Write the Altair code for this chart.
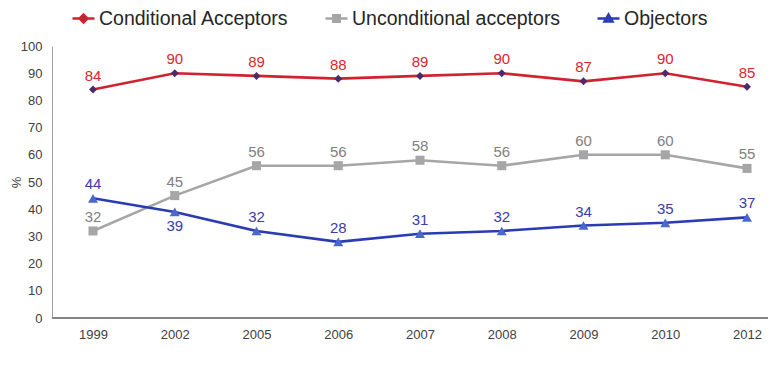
import altair as alt
import pandas as pd

years = ["1999", "2002", "2005", "2006", "2007", "2008", "2009", "2010", "2012"]
conditional = [84, 90, 89, 88, 89, 90, 87, 90, 85]
unconditional = [32, 45, 56, 56, 58, 56, 60, 60, 55]
objectors = [44, 39, 32, 28, 31, 32, 34, 35, 37]
series_names = ["Conditional Acceptors", "Unconditional acceptors", "Objectors"]

rows = []
for name, vals in zip(series_names, [conditional, unconditional, objectors]):
    for yr, v in zip(years, vals):
        rows.append({"year": yr, "series": name, "value": v})
df = pd.DataFrame(rows)

line_colors = ["#D0222F", "#A6A6A6", "#2A3BB4"]
marker_colors = ["#4B2C69", "#A6A6A6", "#4A68CC"]
label_colors = ["#D9262F", "#7F7F7F", "#3B3BAA"]
marker_shapes = ["diamond", "square", "triangle-up"]
legend_shapes = [
    "M-1,0H1M0,-0.36L0.36,0L0,0.36L-0.36,0Z",
    "M-1,0H1M-0.3,-0.3H0.3V0.3H-0.3Z",
    "M-1,0H1M0,-0.36L0.36,0.28H-0.36Z",
]
y_ticks = [0, 10, 20, 30, 40, 50, 60, 70, 80, 90, 100]

W, H = 716, 272
FONT = "Liberation Sans"

x_enc = alt.X(
    "year:N",
    sort=years,
    scale=alt.Scale(type="point", range=[41, 695], padding=0),
    axis=alt.Axis(title=None, labelAngle=0, domain=False, ticks=False,
                  labelPadding=10, labelFontSize=13, labelColor="#404040",
                  labelFont=FONT),
)
y_axis = alt.Axis(values=y_ticks, grid=False, ticks=False,
                  labelOverlap=False,
                  domainColor="#A0A0A0", domainWidth=1, labelPadding=10,
                  labelFontSize=13, labelColor="#404040", labelFont=FONT,
                  title="%", titleFont=FONT, titleFontSize=13,
                  titleFontWeight="normal", titleColor="#404040",
                  titleX=-36, titleY=H / 2, titleAngle=270,
                  titleAlign="center", titleBaseline="middle")
y_scale = alt.Scale(domain=[0, 100], nice=False)
y_enc = alt.Y("value:Q", scale=y_scale, axis=y_axis)

base = alt.Chart(df)

lines = base.mark_line(strokeWidth=2.6).encode(
    x=x_enc, y=y_enc,
    color=alt.Color("series:N", sort=series_names, legend=None,
                    scale=alt.Scale(domain=series_names, range=line_colors)),
)

points = base.mark_point(filled=True, opacity=1).encode(
    x=x_enc, y=y_enc,
    fill=alt.Fill("series:N", sort=series_names, legend=None,
                  scale=alt.Scale(domain=series_names, range=marker_colors)),
    shape=alt.Shape("series:N", sort=series_names, legend=None,
                    scale=alt.Scale(domain=series_names, range=marker_shapes)),
    size=alt.Size("series:N", sort=series_names, legend=None,
                  scale=alt.Scale(domain=series_names, range=[64, 100, 110])),
)

legend_layer = base.mark_point(filled=True, opacity=0).encode(
    x=x_enc, y=y_enc,
    fill=alt.Fill("series:N", sort=series_names, title=None,
                  scale=alt.Scale(domain=series_names, range=marker_colors)),
    stroke=alt.Stroke("series:N", sort=series_names, title=None,
                      scale=alt.Scale(domain=series_names, range=line_colors)),
    shape=alt.Shape("series:N", sort=series_names, title=None,
                    scale=alt.Scale(domain=series_names, range=legend_shapes)),
)

text_layers = []
for name, col in zip(series_names, label_colors):
    above = base.transform_filter(
        (alt.datum.series == name) & ~((alt.datum.series == "Objectors") & (alt.datum.year == "2002"))
    ).mark_text(dy=-14, fontSize=15, font=FONT, color=col).encode(
        x=x_enc, y=y_enc, text="value:Q")
    text_layers.append(above)
below = base.transform_filter(
    (alt.datum.series == "Objectors") & (alt.datum.year == "2002")
).mark_text(dy=14, fontSize=15, font=FONT, color=label_colors[2]).encode(
    x=x_enc, y=y_enc, text="value:Q")
text_layers.append(below)

axis_rule = alt.Chart(pd.DataFrame({"value": [0]})).mark_rule(
    color="#858585", strokeWidth=2).encode(
    x=alt.value(0), x2=alt.value(W), y=y_enc)

chart = alt.layer(
    lines, points, *text_layers, axis_rule, legend_layer
).resolve_scale(
    shape="independent", fill="independent", stroke="independent"
).properties(
    width=W, height=H,
    autosize=alt.AutoSizeParams(type="none"),
    padding={"left": 44, "top": 38, "right": 0, "bottom": 40},
).configure_view(stroke=None).configure_legend(
    orient="none", legendX=19, legendY=-40, direction="horizontal",
    columnPadding=31, labelFontSize=19.5, labelFont=FONT, labelColor="#262626",
    symbolSize=484, symbolStrokeWidth=2.5, labelOffset=3, symbolOpacity=1,
    labelLimit=400,
)

chart.save("out.html", embed_options={"renderer": "svg", "actions": False})
